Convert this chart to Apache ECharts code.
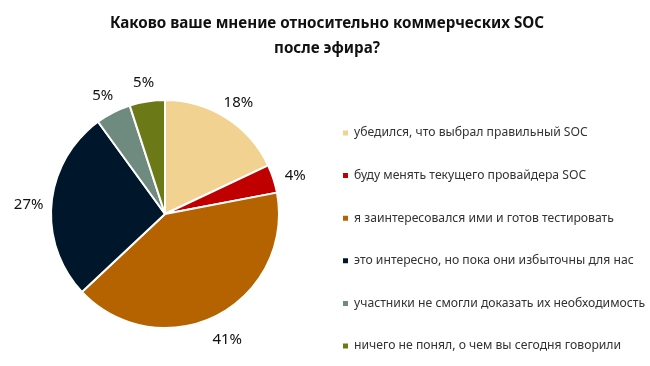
<!DOCTYPE html>
<html><head><meta charset="utf-8">
<script src="https://cdn.jsdelivr.net/npm/echarts@6/dist/echarts.min.js"></script>
<style>html,body{margin:0;padding:0;background:#fff}#c{width:650px;height:366px}</style>
</head><body><div id="c"></div>
<script>
const categories = [
  "убедился, что выбрал правильный SOC",
  "буду менять текущего провайдера SOC",
  "я заинтересовался ими и готов тестировать",
  "это интересно, но пока они избыточны для нас",
  "участники не смогли доказать их необходимость",
  "ничего не понял, о чем вы сегодня говорили"
];
const values = [18, 4, 41, 27, 5, 5];
const colors = ["#F2D290", "#C00000", "#B46300", "#00172B", "#6F8B7F", "#6B7A16"];

const chart = echarts.init(document.getElementById('c'));
const pieBase = {
  type: 'pie', center: [165, 214], startAngle: 90, clockwise: true
};
chart.setOption({
  animation: false,
  title: {
    text: "Каково ваше мнение относительно коммерческих SOC\nпосле эфира?",
    left: 322, top: 6, textAlign: 'center',
    textStyle: {fontFamily: "Noto Sans", fontWeight: 'bold', fontSize: 15.2, color: '#111', lineHeight: 25}
  },
  legend: {
    orient: 'vertical', left: 336, top: 121,
    icon: 'rect', itemWidth: 7, itemHeight: 7, itemGap: 28.6,
    textStyle: {fontFamily: "Noto Sans", fontSize: 12.2, lineHeight: 14, color: '#333'},
    data: categories
  },
  series: [
    Object.assign({}, pieBase, {
      radius: 114,
      itemStyle: {borderColor: '#fff', borderWidth: 2},
      label: {show: false},
      labelLine: {show: false},
      data: categories.map((n, i) => ({name: n, value: values[i], itemStyle: {color: colors[i]}}))
    }),
    Object.assign({}, pieBase, {
      radius: [121, 147], silent: true,
      itemStyle: {color: 'rgba(0,0,0,0)'},
      label: {show: true, position: 'inside', formatter: '{c}%', fontFamily: "Noto Sans", fontSize: 15, color: '#111', offset: [0, 4]},
      labelLine: {show: false},
      emphasis: {disabled: true},
      data: categories.map((n, i) => ({name: n, value: values[i]}))
    })
  ]
});
</script></body></html>
